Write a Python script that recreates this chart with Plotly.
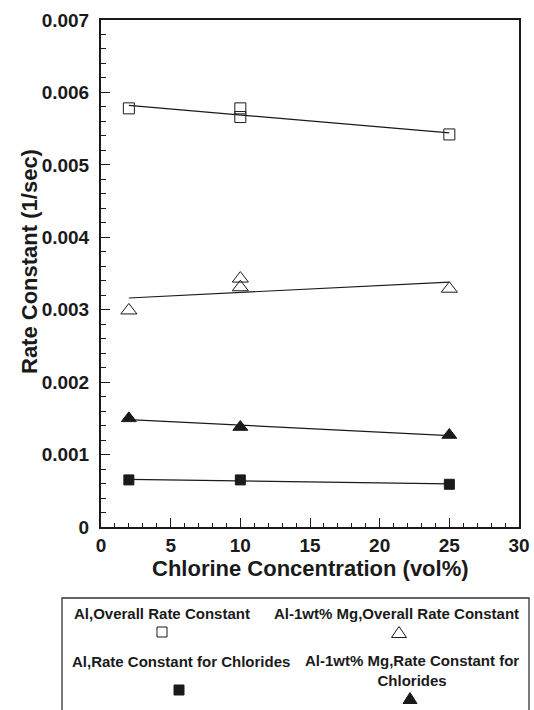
import numpy as np
import plotly.graph_objects as go

# ---------------- data ----------------
conc_al_overall = [2, 10, 10, 25]
rate_al_overall = [0.00578, 0.00578, 0.00566, 0.00542]

conc_mg_overall = [2, 10, 10, 25]
rate_mg_overall = [0.00299, 0.00343, 0.00331, 0.00329]

conc_mg_chlor = [2, 10, 25]
rate_mg_chlor = [0.00150, 0.00138, 0.00127]

conc_al_chlor = [2, 10, 25]
rate_al_chlor = [0.00065, 0.00065, 0.00059]

x_tick_vals = [0, 5, 10, 15, 20, 25, 30]
y_tick_vals = [0, 0.001, 0.002, 0.003, 0.004, 0.005, 0.006, 0.007]
y_tick_text = ["0", "0.001", "0.002", "0.003", "0.004", "0.005", "0.006", "0.007"]

legend_labels = [
    "Al,Overall Rate Constant",
    "Al-1wt% Mg,Overall Rate Constant",
    "Al,Rate Constant for Chlorides",
    "Al-1wt% Mg,Rate Constant for<br>Chlorides",
]

# ---------------- layout geometry (pixels) ----------------
W, H = 534, 710
PL, PR, PT, PB = 101, 519, 20, 527
FONT = "Liberation Sans"
INK = "#1a1a1a"


def px(x):
    return x / W


def py(y):
    return 1 - y / H


fig = go.Figure()

series = [
    (conc_al_overall, rate_al_overall, "square-open", 11, "Al overall"),
    (conc_mg_overall, rate_mg_overall, "triangle-up-open", 14, "Al-Mg overall"),
    (conc_mg_chlor, rate_mg_chlor, "triangle-up", 13, "Al-Mg chlorides"),
    (conc_al_chlor, rate_al_chlor, "square", 10, "Al chlorides"),
]

for xs, ys, sym, size, name in series:
    coef = np.polyfit(xs, ys, 1)
    xf = np.array([min(xs), max(xs)])
    fig.add_trace(go.Scatter(
        x=xf, y=np.polyval(coef, xf), mode="lines",
        line=dict(color=INK, width=1.2), showlegend=False, hoverinfo="skip"))
    fig.add_trace(go.Scatter(
        x=xs, y=ys, mode="markers", name=name, showlegend=False,
        marker=dict(symbol=sym, size=size, color=INK,
                    line=dict(color=INK, width=1))))

axis_common = dict(
    showline=True, linewidth=2, linecolor=INK, mirror=True,
    showgrid=False, zeroline=False, ticks="inside", tickcolor=INK,
    tickwidth=1, automargin=False,
    tickfont=dict(family=FONT, size=19, color=INK, weight="bold"),
)

fig.update_layout(
    width=W, height=H,
    margin=dict(l=0, r=0, t=0, b=0),
    paper_bgcolor="white", plot_bgcolor="white",
    showlegend=False,
    xaxis=dict(
        domain=[px(PL), px(PR)], range=[0, 30],
        tickvals=x_tick_vals, ticklen=9,
        minor=dict(ticks="inside", ticklen=4, dtick=1, tickcolor=INK, tickwidth=1),
        ticklabelstandoff=0,
        **axis_common),
    yaxis=dict(
        domain=[py(PB), py(PT)], range=[0, 0.007],
        tickvals=y_tick_vals, ticktext=y_tick_text, ticklen=9,
        minor=dict(ticks="inside", ticklen=5, dtick=0.0002, tickcolor=INK, tickwidth=1),
        ticklabelstandoff=6,
        **axis_common),
)

title_font = dict(family=FONT, size=22, color=INK, weight="bold")
fig.add_annotation(text="Chlorine Concentration (vol%)", x=px((PL + PR) / 2), y=py(568),
                   xref="paper", yref="paper", showarrow=False,
                   xanchor="center", yanchor="middle", font=title_font)
fig.add_annotation(text="Rate Constant (1/sec)", x=px(30), y=py(262),
                   xref="paper", yref="paper", showarrow=False, textangle=-90,
                   xanchor="center", yanchor="middle", font=title_font)

# ---------------- legend box ----------------
fig.add_shape(type="rect", xref="paper", yref="paper",
              x0=px(62), x1=px(529), y0=py(720), y1=py(598),
              line=dict(color="#333", width=1.3), fillcolor="rgba(0,0,0,0)")

leg_font = dict(family=FONT, size=15, color=INK, weight="bold")
leg_text_pos = [(162, 613), (396, 613), (181, 661), (412, 670)]
for label, (lx, ly) in zip(legend_labels, leg_text_pos):
    fig.add_annotation(text=label, x=px(lx), y=py(ly), xref="paper", yref="paper",
                       showarrow=False, xanchor="center", yanchor="middle",
                       font=leg_font, align="center")

# legend symbols (shapes, pixel sized)
def sq(cx, cy, s, filled):
    fig.add_shape(type="rect", xref="paper", yref="paper",
                  xsizemode="pixel", ysizemode="pixel",
                  xanchor=px(cx), yanchor=py(cy),
                  x0=-s / 2, x1=s / 2, y0=-s / 2, y1=s / 2,
                  line=dict(color=INK, width=1),
                  fillcolor=INK if filled else "white")


def tri(cx, cy, w, h, filled):
    path = f"M{-w/2},{-h/2} L{w/2},{-h/2} L0,{h/2} Z"
    fig.add_shape(type="path", xref="paper", yref="paper",
                  xsizemode="pixel", ysizemode="pixel",
                  xanchor=px(cx), yanchor=py(cy), path=path,
                  line=dict(color=INK, width=1),
                  fillcolor=INK if filled else "white")


sq(162, 632, 10, False)
tri(399, 632, 15, 11, False)
sq(179, 690, 10, True)
tri(410, 698, 14, 11, True)

fig.write_html("out.html")
